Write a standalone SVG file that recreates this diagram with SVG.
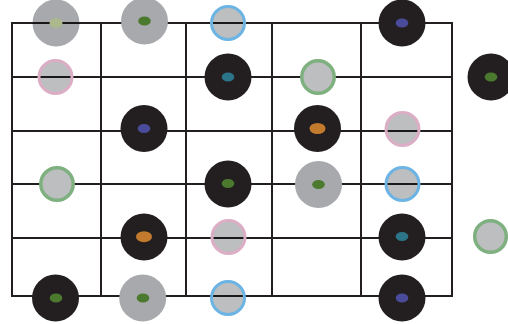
<svg xmlns="http://www.w3.org/2000/svg" width="508" height="324" viewBox="0 0 508 324">
<style>
.grid line{stroke:#231f20;stroke-width:2;stroke-linecap:square}
.blk{fill:#231f20}
.gry{fill:#a7a9ac}
.gryM{fill:#a7a9ac;mix-blend-mode:multiply}
.ringfill{fill:#bcbec0;mix-blend-mode:multiply}
.ringG{fill:#bcbec0;stroke:#7fb07f;stroke-width:3.5}
.ringB{fill:none;stroke:#6cb4e4;stroke-width:3}
.ringP{fill:none;stroke:#dcaec6;stroke-width:3}
.dG{fill:#4b7a2f}
.dF{fill:#aab88c}
.dB{fill:#4a4b9b}
.dT{fill:#2c7488}
.dO{fill:#c27a2c}
</style>
<rect width="508" height="324" fill="#ffffff"/>
<g id="grid" class="grid">
<line x1="12" y1="23" x2="452" y2="23"/>
<line x1="12" y1="77" x2="452" y2="77"/>
<line x1="12" y1="131" x2="452" y2="131"/>
<line x1="12" y1="184" x2="452" y2="184"/>
<line x1="12" y1="238" x2="452" y2="238"/>
<line x1="12" y1="296" x2="452" y2="296"/>
<line x1="12" y1="23" x2="12" y2="296"/>
<line x1="101" y1="23" x2="101" y2="296"/>
<line x1="186" y1="23" x2="186" y2="296"/>
<line x1="272" y1="23" x2="272" y2="296"/>
<line x1="361" y1="23" x2="361" y2="296"/>
<line x1="452" y1="23" x2="452" y2="296"/>
</g>
<g id="connectors"></g>
<!-- row 1 -->
<g id="n1"><circle class="gryM" cx="56" cy="23" r="23.5"/><ellipse class="dF" cx="56" cy="23" rx="6.5" ry="5"/></g>
<g id="n2"><circle class="gry" cx="144.5" cy="21" r="23.5"/><ellipse class="dG" cx="144.5" cy="21" rx="6.3" ry="4.5"/></g>
<g id="n3"><circle class="ringfill" cx="228" cy="23" r="16.5"/><circle class="ringB" cx="228" cy="23" r="16.5"/></g>
<g id="n4"><circle class="blk" cx="402" cy="23" r="23.5"/><ellipse class="dB" cx="402" cy="23" rx="6.3" ry="4.5"/></g>
<!-- row 2 -->
<g id="n5"><circle class="ringfill" cx="55.5" cy="77" r="16.5"/><circle class="ringP" cx="55.5" cy="77" r="16.5"/></g>
<g id="n6"><circle class="blk" cx="228" cy="77" r="23.5"/><ellipse class="dT" cx="228" cy="77" rx="6.3" ry="4.5"/></g>
<g id="n7"><circle class="ringG" cx="318" cy="77" r="16.2"/></g>
<g id="n8"><circle class="blk" cx="491" cy="77" r="23.5"/><ellipse class="dG" cx="491" cy="77" rx="6.3" ry="4.5"/></g>
<!-- row 3 -->
<g id="n9"><circle class="blk" cx="144" cy="128.5" r="23.5"/><ellipse class="dB" cx="144" cy="128.5" rx="6.3" ry="4.5"/></g>
<g id="n10"><circle class="blk" cx="317.5" cy="128.5" r="23.5"/><ellipse class="dO" cx="317.5" cy="128.5" rx="8" ry="5.5"/></g>
<g id="n11"><circle class="ringfill" cx="402.5" cy="129" r="16.5"/><circle class="ringP" cx="402.5" cy="129" r="16.5"/></g>
<!-- row 4 -->
<g id="n12"><circle class="ringG" cx="57" cy="184" r="16.2"/></g>
<g id="n13"><circle class="blk" cx="228" cy="184" r="23.5"/><ellipse class="dG" cx="228" cy="183.5" rx="6.3" ry="4.5"/></g>
<g id="n14"><circle class="gry" cx="318.5" cy="184.5" r="23.5"/><ellipse class="dG" cx="318.5" cy="184.5" rx="6.3" ry="4.5"/></g>
<g id="n15"><circle class="ringfill" cx="402.5" cy="184" r="16.5"/><circle class="ringB" cx="402.5" cy="184" r="16.5"/></g>
<!-- row 5 -->
<g id="n16"><circle class="blk" cx="144" cy="237" r="23.5"/><ellipse class="dO" cx="144" cy="236.7" rx="8" ry="5.5"/></g>
<g id="n17"><circle class="ringfill" cx="228.5" cy="237" r="16.5"/><circle class="ringP" cx="228.5" cy="237" r="16.5"/></g>
<g id="n18"><circle class="blk" cx="402" cy="237" r="23.5"/><ellipse class="dT" cx="402" cy="236.5" rx="6.3" ry="4.5"/></g>
<g id="n19"><circle class="ringG" cx="490.5" cy="236.5" r="15.8"/></g>
<!-- row 6 -->
<g id="n20"><circle class="blk" cx="55.5" cy="298" r="23.5"/><ellipse class="dG" cx="56" cy="298" rx="6.3" ry="4.5"/></g>
<g id="n21"><circle class="gry" cx="142.7" cy="298" r="23.5"/><ellipse class="dG" cx="143" cy="298" rx="6.3" ry="4.5"/></g>
<g id="n22"><circle class="ringfill" cx="228" cy="298" r="16.5"/><circle class="ringB" cx="228" cy="298" r="16.5"/></g>
<g id="n23"><circle class="blk" cx="402" cy="298" r="23.5"/><ellipse class="dB" cx="402" cy="298" rx="6.3" ry="4.5"/></g>
</svg>
